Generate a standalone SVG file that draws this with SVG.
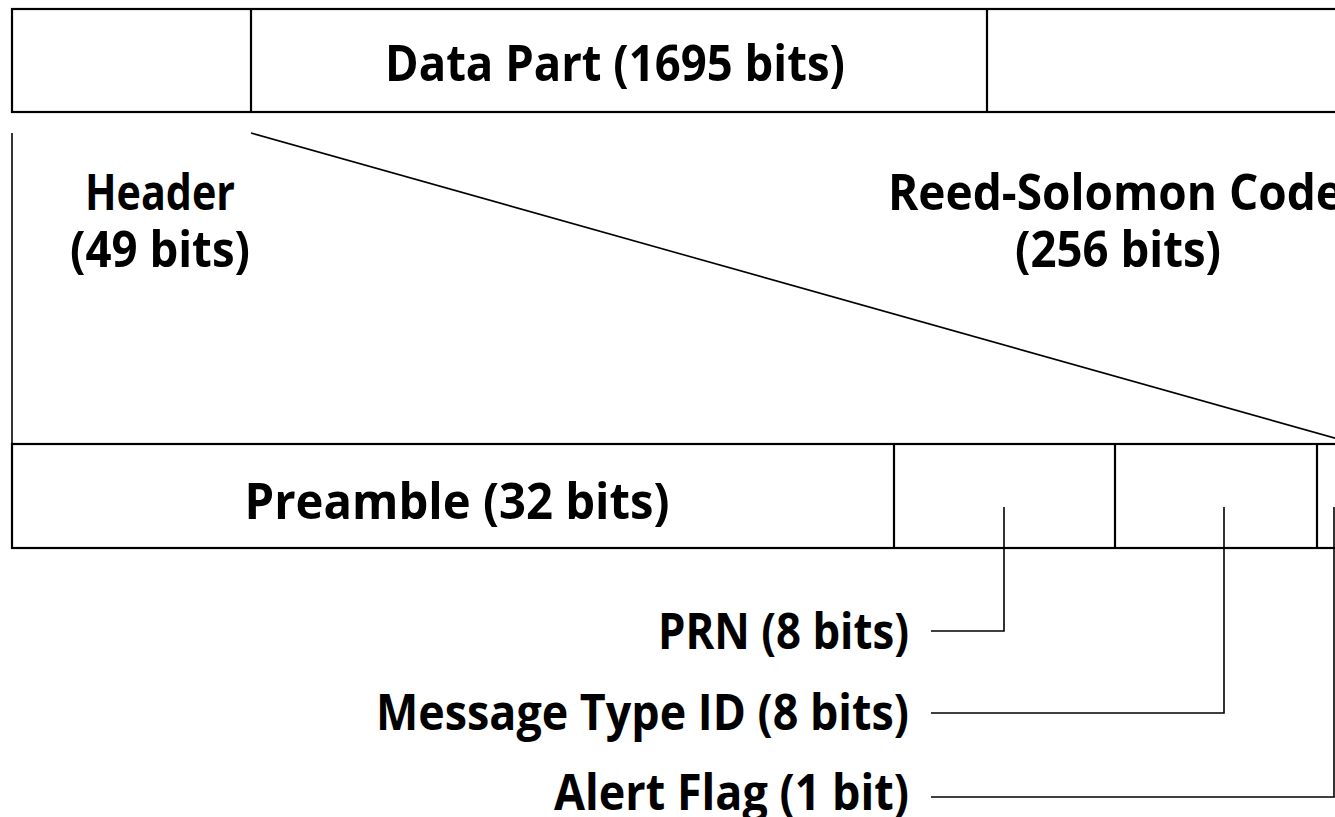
<svg xmlns="http://www.w3.org/2000/svg" width="1335" height="817" viewBox="0 0 1335 817">
<style>
.box{fill:#fff;stroke:#000;stroke-width:2.2}
.div{stroke:#000;stroke-width:2.2;fill:none}
.ln{stroke:#000;stroke-width:1.6;fill:none}
.t{font-family:"Open Sans","Noto Sans","Liberation Sans",sans-serif;font-weight:700;font-size:51px;fill:#000}
</style>
<rect width="1335" height="817" fill="#fff"/>
<g id="frame-top">
<rect class="box" x="12" y="9" width="1340" height="103"/>
<line class="div" x1="251" y1="9" x2="251" y2="112"/>
<line class="div" x1="987" y1="9" x2="987" y2="112"/>
<text class="t" x="615" y="81" text-anchor="middle" textLength="460" lengthAdjust="spacingAndGlyphs">Data Part (1695 bits)</text>
</g>
<g id="header-label">
<text class="t" x="160" y="210" text-anchor="middle" textLength="150" lengthAdjust="spacingAndGlyphs">Header</text>
<text class="t" x="160" y="267" text-anchor="middle" textLength="180" lengthAdjust="spacingAndGlyphs">(49 bits)</text>
</g>
<g id="rs-label">
<text class="t" x="888" y="210" textLength="455" lengthAdjust="spacingAndGlyphs">Reed-Solomon Code</text>
<text class="t" x="1118" y="267" text-anchor="middle" textLength="206" lengthAdjust="spacingAndGlyphs">(256 bits)</text>
</g>
<g id="frame-header">
<rect class="box" x="12" y="444" width="1340" height="104"/>
<line class="div" x1="894" y1="444" x2="894" y2="548"/>
<line class="div" x1="1115" y1="444" x2="1115" y2="548"/>
<line class="div" x1="1317" y1="444" x2="1317" y2="548"/>
<text class="t" x="457" y="519" text-anchor="middle" textLength="425" lengthAdjust="spacingAndGlyphs">Preamble (32 bits)</text>
</g>
<g id="field-labels">
<text class="t" x="909" y="649" text-anchor="end" textLength="251" lengthAdjust="spacingAndGlyphs">PRN (8 bits)</text>
<text class="t" x="909" y="730" text-anchor="end" textLength="533" lengthAdjust="spacingAndGlyphs">Message Type ID (8 bits)</text>
<text class="t" x="909" y="810" text-anchor="end" textLength="355" lengthAdjust="spacingAndGlyphs">Alert Flag (1 bit)</text>
</g>
<g id="connectors">
<line class="ln" x1="12" y1="133" x2="12" y2="444"/>
<line class="ln" x1="251" y1="133" x2="1345" y2="441"/>
<polyline class="ln" points="1004,507 1004,631 931,631"/>
<polyline class="ln" points="1224,507 1224,713 931,713"/>
<polyline class="ln" points="1334,507 1334,797 931,797"/>
</g>
</svg>
